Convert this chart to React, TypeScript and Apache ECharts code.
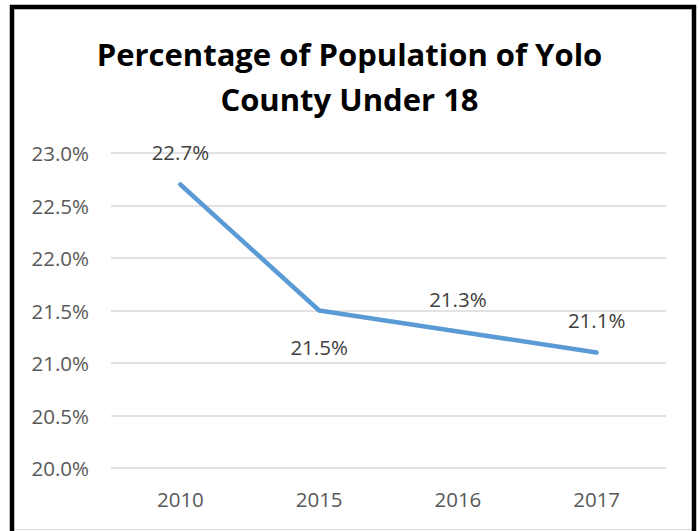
import React, { useEffect, useRef } from "react";
import * as echarts from "echarts";

const categories = ["2010", "2015", "2016", "2017"];
const values = [22.7, 21.5, 21.3, 21.1];
const labelBelow = [false, true, false, false];
const yTicks = [20.0, 20.5, 21.0, 21.5, 22.0, 22.5, 23.0];
const titleLines = ["Percentage of Population of Yolo", "County Under 18"];

export default function App() {
  const ref = useRef<HTMLDivElement>(null);
  useEffect(() => {
    if (!ref.current) return;
    const chart = echarts.init(ref.current, undefined, { renderer: "svg" });
    const font = "'Open Sans', sans-serif";
    chart.setOption({
      animation: false,
      backgroundColor: "#ffffff",
      title: {
        text: titleLines.join("\n"),
        left: "center",
        top: 26,
        textStyle: {
          fontFamily: font,
          fontWeight: "bold",
          fontSize: 31,
          lineHeight: 45,
          color: "#000000",
        },
      },
      grid: { left: 111, right: 33, top: 153, bottom: 63 },
      xAxis: {
        type: "category",
        data: categories,
        boundaryGap: true,
        axisLine: { show: false },
        axisTick: { show: false },
        axisLabel: { fontFamily: font, fontSize: 20.5, color: "#595959", margin: 20 },
      },
      yAxis: {
        type: "value",
        min: yTicks[0],
        max: yTicks[yTicks.length - 1],
        interval: 0.5,
        axisLine: { show: false },
        axisTick: { show: false },
        splitLine: { lineStyle: { color: "#d9d9d9", width: 1.5 } },
        axisLabel: {
          fontFamily: font,
          fontSize: 20.5,
          color: "#595959",
          margin: 22,
          formatter: (v: number) => v.toFixed(1) + "%",
        },
      },
      series: [
        {
          type: "line",
          data: values.map((v, i) => ({
            value: v,
            label: {
              show: true,
              position: labelBelow[i] ? "bottom" : "top",
              distance: labelBelow[i] ? 25 : 21,
            },
          })),
          symbol: "circle",
          symbolSize: 2,
          showSymbol: true,
          itemStyle: { color: "#5B9BD5", borderWidth: 0 },
          lineStyle: { color: "#5B9BD5", width: 4.5, cap: "round", join: "round" },
          label: {
            show: true,
            fontFamily: font,
            fontSize: 20.5,
            color: "#404040",
            formatter: (p: any) => Number(p.value).toFixed(1) + "%",
          },
        },
      ],
      graphic: [
        {
          type: "line",
          shape: { x1: 14, y1: 529.5, x2: 692, y2: 529.5 },
          style: { stroke: "#d9d9d9", lineWidth: 1 },
          z: 10,
        },
        {
          type: "rect",
          shape: { x: 12, y: 7, width: 682, height: 560 },
          style: { fill: "none", stroke: "#000000", lineWidth: 4.5 },
          z: 10,
        },
      ],
    });
    return () => chart.dispose();
  }, []);
  return (
    <div
      ref={ref}
      style={{ position: "absolute", left: 0, top: 0, width: 699, height: 531 }}
    />
  );
}
